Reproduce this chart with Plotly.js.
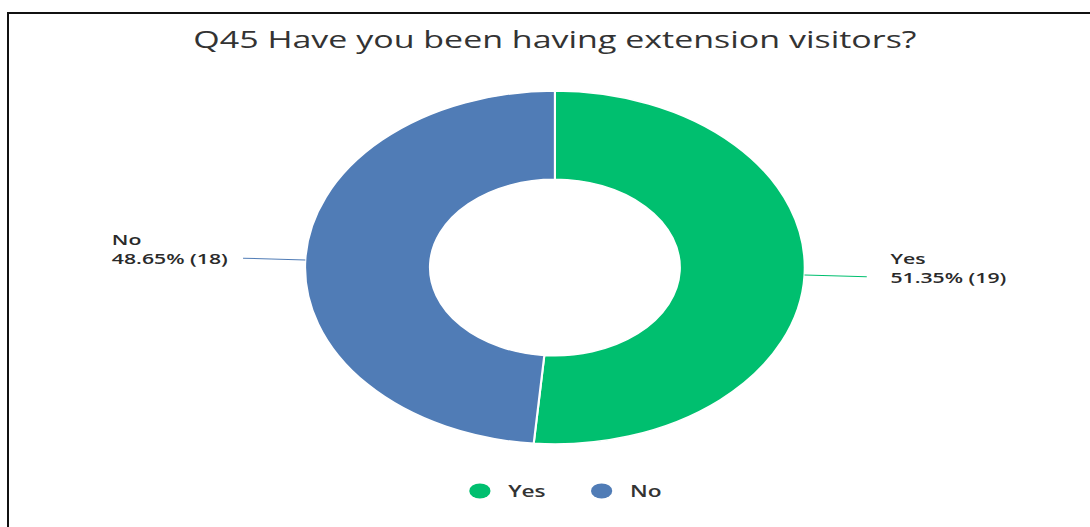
<!DOCTYPE html>
<html>
<head>
<meta charset="utf-8">
<script src="https://cdn.plot.ly/plotly-3.0.1.min.js"></script>
<style>
  html, body { margin: 0; padding: 0; background: #fff; overflow: hidden; }
  #frame { position: absolute; left: 7px; top: 12px; width: 1100px; height: 540px;
           border-top: 2px solid #111; border-left: 2px solid #111; pointer-events: none; z-index: 5; }
  #wrap { position: absolute; left: 0; top: 0; width: 770px; height: 527px;
          transform: scaleX(1.41558); transform-origin: 0 0; }
  #chart { width: 770px; height: 527px; }
</style>
</head>
<body>
<div id="wrap"><div id="chart"></div></div>
<div id="frame"></div>
<script>
const titleText = "Q45 Have you been having extension visitors?";
const labels = ["Yes", "No"];
const counts = [19, 18];
const percents = ["51.35%", "48.65%"];
const colors = ["#00BF6F", "#507CB6"];

const W = 770, H = 527;
const cx = 392, cy = 267.5, R = 176.5, lead = 44;
const fontFam = "'Open Sans', 'DejaVu Sans', sans-serif";

const total = counts.reduce((a, b) => a + b, 0);
const shapes = [], annotations = [];
let acc = 0;
counts.forEach((c, i) => {
  const mid = (acc + c / 2) / total * 2 * Math.PI;
  acc += c;
  const sx = cx + R * Math.sin(mid), sy = cy - R * Math.cos(mid);
  const ex = cx + (R + lead) * Math.sin(mid), ey = cy - (R + lead) * Math.cos(mid);
  const right = Math.sin(mid) >= 0;
  shapes.push({
    type: "line", xref: "paper", yref: "paper",
    x0: sx / W, y0: 1 - sy / H, x1: ex / W, y1: 1 - ey / H,
    line: { color: colors[i], width: 1 }
  });
  annotations.push({
    xref: "paper", yref: "paper", x: ex / W, y: 1 - ey / H,
    text: labels[i] + "<br>" + percents[i] + " (" + counts[i] + ")",
    showarrow: false, align: "left",
    xanchor: right ? "left" : "right", yanchor: "middle",
    xshift: right ? 15 : -9, yshift: 9,
    font: { family: fontFam, size: 15, color: "#2a2a2a", weight: 600 }
  });
});

const data = [{
  type: "pie",
  labels: labels, values: counts,
  marker: { colors: colors, line: { color: "#fff", width: 1.5 } },
  hole: 0.5, sort: false, direction: "clockwise", rotation: 0,
  textinfo: "none", hoverinfo: "label+percent+value",
  showlegend: false,
  domain: { x: [(cx - R) / W, (cx + R) / W], y: [(H - cy - R) / H, (H - cy + R) / H] }
}];
labels.forEach((l, i) => {
  data.push({
    type: "scatter", mode: "markers", x: [null], y: [null], name: l,
    marker: { color: colors[i], size: 15, symbol: "circle" },
    hoverinfo: "skip", showlegend: true
  });
});

const layout = {
  width: W, height: H,
  margin: { l: 0, r: 0, t: 0, b: 0 },
  paper_bgcolor: "rgba(0,0,0,0)", plot_bgcolor: "rgba(0,0,0,0)",
  title: { text: titleText, xref: "container", yref: "container",
           x: 392 / W, xanchor: "center", y: 1 - 40 / H, yanchor: "middle",
           font: { family: fontFam, size: 24, color: "#333" } },
  xaxis: { visible: false }, yaxis: { visible: false },
  showlegend: true,
  legend: { orientation: "h", x: 405 / W, xanchor: "center", y: 1 - 491 / H, yanchor: "middle",
            entrywidth: 41, entrywidthmode: "pixels",
            font: { family: fontFam, size: 16, color: "#333", weight: 600 }, bgcolor: "rgba(0,0,0,0)" },
  shapes: shapes, annotations: annotations
};

Plotly.newPlot("chart", data, layout, { displayModeBar: false, staticPlot: true });
</script>
</body>
</html>
